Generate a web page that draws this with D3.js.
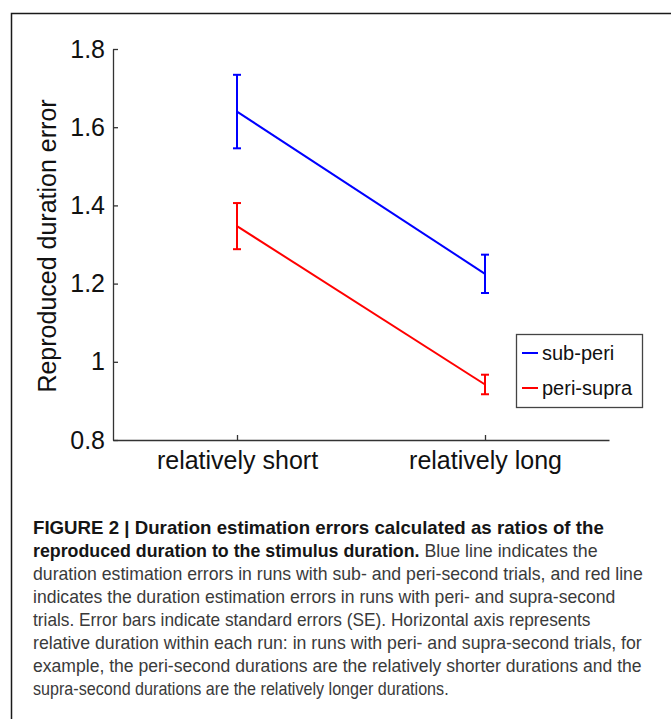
<!DOCTYPE html>
<html>
<head>
<meta charset="utf-8">
<script src="https://cdn.jsdelivr.net/npm/d3@7"></script>
<style>
  html, body { margin: 0; padding: 0; background: #fff; }
  svg { display: block; }
</style>
</head>
<body>
<svg id="chart" width="671" height="719"></svg>
<script>
// ---------- data ----------
const categories = ["relatively short", "relatively long"];
const seriesNames = ["sub-peri", "peri-supra"];
const seriesColors = ["#0000ff", "#ff0000"];
const subPeriMean = [1.640, 1.225];
const subPeriSE = [0.094, 0.049];
const periSupraMean = [1.347, 0.942];
const periSupraSE = [0.059, 0.025];
const yTickValues = [0.8, 1.0, 1.2, 1.4, 1.6, 1.8];
const yTickLabels = ["0.8", "1", "1.2", "1.4", "1.6", "1.8"];
const yLabel = "Reproduced duration error";

const captionLines = [
  [["b", "FIGURE 2 | Duration estimation errors calculated as ratios of the"]],
  [["b", "reproduced duration to the stimulus duration."], ["n", " Blue line indicates the"]],
  [["n", "duration estimation errors in runs with sub- and peri-second trials, and red line"]],
  [["n", "indicates the duration estimation errors in runs with peri- and supra-second"]],
  [["n", "trials. Error bars indicate standard errors (SE). Horizontal axis represents"]],
  [["n", "relative duration within each run: in runs with peri- and supra-second trials, for"]],
  [["n", "example, the peri-second durations are the relatively shorter durations and the"]],
  [["n", "supra-second durations are the relatively longer durations."]]
];
const captionRightEnds = [604, 598, 643, 616, 591, 642, 642, 449];

// ---------- layout ----------
const svg = d3.select("#chart");
const font = "'Liberation Sans', Arial, Helvetica, sans-serif";

// figure border (left + top)
svg.append("path")
  .attr("d", "M11.5,719 L11.5,13.5 L671,13.5")
  .attr("fill", "none").attr("stroke", "#1a1a1a").attr("stroke-width", 1.5);

const x = d3.scaleLinear().domain([0.5, 2.5]).range([113, 609]);
const y = d3.scaleLinear().domain([0.8, 1.8]).range([440, 49]);

// y axis
const yAxis = d3.axisLeft(y)
  .tickValues(yTickValues)
  .tickFormat((d, i) => yTickLabels[i])
  .tickSizeInner(-5).tickSizeOuter(0).tickPadding(8);
const gy = svg.append("g").attr("transform", "translate(113,0)").call(yAxis);
gy.selectAll("text").attr("font-family", font).attr("font-size", 25).attr("fill", "#111");

// x axis
const xAxis = d3.axisBottom(x)
  .tickValues([1, 2])
  .tickFormat((d, i) => categories[i])
  .tickSizeInner(-5).tickSizeOuter(0).tickPadding(11);
const gx = svg.append("g").attr("transform", "translate(0,440)").call(xAxis);
gx.selectAll("text").attr("font-family", font).attr("font-size", 25).attr("fill", "#111");

[gx, gy].forEach(g => {
  g.select(".domain").attr("stroke", "#333").attr("stroke-width", 1.3);
  g.selectAll(".tick line").attr("stroke", "#333").attr("stroke-width", 1.3);
});

// y label
svg.append("text")
  .attr("transform", "translate(56,246) rotate(-90)")
  .attr("text-anchor", "middle")
  .attr("font-family", font).attr("font-size", 25).attr("fill", "#111")
  .text(yLabel);

// series
const series = [
  { name: seriesNames[0], color: seriesColors[0], mean: subPeriMean, se: subPeriSE },
  { name: seriesNames[1], color: seriesColors[1], mean: periSupraMean, se: periSupraSE }
];
const capW = 4;
series.forEach(s => {
  const pts = s.mean.map((m, i) => ({ x: i + 1, m, se: s.se[i] }));
  svg.append("path")
    .datum(pts)
    .attr("fill", "none").attr("stroke", s.color).attr("stroke-width", 2)
    .attr("d", d3.line().x(d => x(d.x)).y(d => y(d.m)));
  const eb = svg.append("g").attr("stroke", s.color).attr("stroke-width", 2);
  pts.forEach(p => {
    eb.append("line").attr("x1", x(p.x)).attr("x2", x(p.x))
      .attr("y1", y(p.m - p.se)).attr("y2", y(p.m + p.se));
    eb.append("line").attr("x1", x(p.x) - capW).attr("x2", x(p.x) + capW)
      .attr("y1", y(p.m + p.se)).attr("y2", y(p.m + p.se));
    eb.append("line").attr("x1", x(p.x) - capW).attr("x2", x(p.x) + capW)
      .attr("y1", y(p.m - p.se)).attr("y2", y(p.m - p.se));
  });
});

// legend
const lg = svg.append("g");
lg.append("rect").attr("x", 516.5).attr("y", 334.5).attr("width", 126).attr("height", 73)
  .attr("fill", "#fff").attr("stroke", "#444").attr("stroke-width", 1.3);
series.forEach((s, i) => {
  const yy = 353 + i * 35;
  lg.append("line").attr("x1", 522).attr("x2", 538).attr("y1", yy).attr("y2", yy)
    .attr("stroke", s.color).attr("stroke-width", 2);
  lg.append("text").attr("x", 542).attr("y", yy + 7)
    .attr("font-family", font).attr("font-size", 20).attr("fill", "#111")
    .text(s.name);
});

// caption
const cap = svg.append("g");
captionLines.forEach((parts, i) => {
  const t = cap.append("text")
    .attr("font-family", font).attr("font-size", 17.5);
  parts.forEach(([w, str]) => {
    t.append("tspan")
      .attr("font-weight", w === "b" ? "bold" : "normal")
      .attr("fill", w === "b" ? "#151515" : "#3a3a3a")
      .text(str);
  });
  const base = 534 + i * 23;
  const wNat = t.node().getComputedTextLength();
  const target = captionRightEnds[i] - 33;
  t.attr("transform", `translate(33,${base}) scale(${target / wNat},1)`);
});
</script>
</body>
</html>
